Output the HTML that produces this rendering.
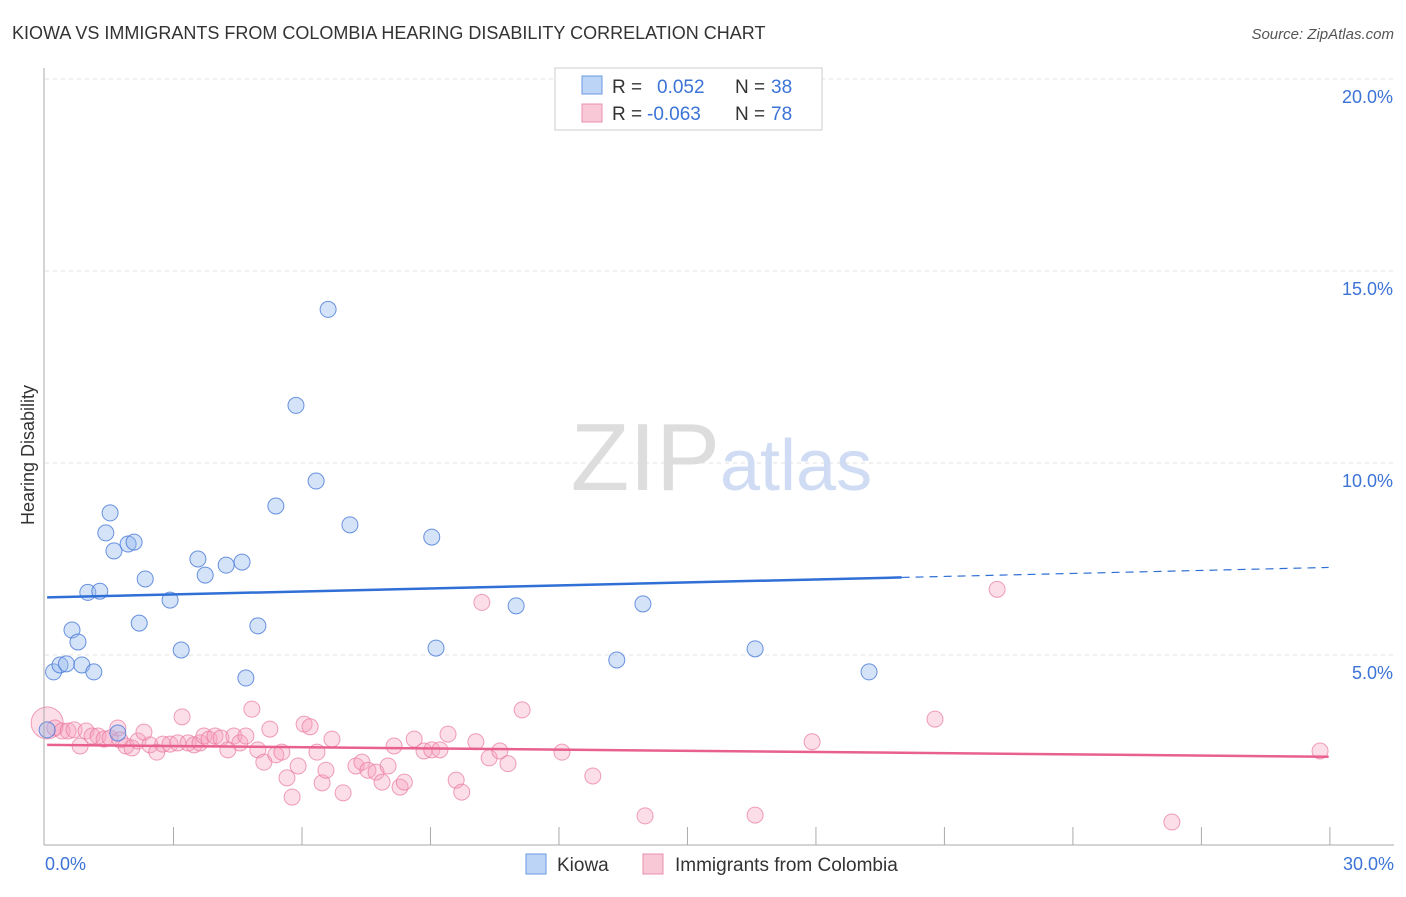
<!DOCTYPE html>
<html><head><meta charset="utf-8"><style>
body{margin:0;background:#fff;font-family:"Liberation Sans",sans-serif}
svg text{font-family:"Liberation Sans",sans-serif}
</style></head><body>
<svg width="1406" height="892">
<text x="12" y="39" font-size="18" fill="#333">KIOWA VS IMMIGRANTS FROM COLOMBIA HEARING DISABILITY CORRELATION CHART</text>
<text x="1394" y="39" font-size="15" fill="#555" font-style="italic" text-anchor="end">Source: ZipAtlas.com</text>
<g id="grid"></g>
<text x="720" y="490" font-size="96" fill="#ddd" font-family="Liberation Serif" text-anchor="end">ZIP</text>
<text x="720" y="490" font-size="72" fill="#cfdcf3">atlas</text>
<text transform="translate(34,455) rotate(-90)" font-size="18" fill="#333" text-anchor="middle">Hearing Disability</text>
<g id="pts"></g>
<g id="lines"></g>
<line x1="44" y1="68" x2="44" y2="845" stroke="#aaa"/>
<line x1="44" y1="845" x2="1394" y2="845" stroke="#aaa"/>
<text x="45" y="870" font-size="18" fill="#3b73d6">0.0%</text>
<text x="1394" y="870" font-size="18" fill="#3b73d6" text-anchor="end">30.0%</text>
<g>
<rect x="555" y="68" width="267" height="62" fill="#fff" stroke="#ccc"/>
<rect x="582" y="76" width="20" height="18" fill="#bcd4f5" stroke="#6a9ae0"/>
<rect x="582" y="104" width="20" height="18" fill="#f9c8d6" stroke="#e892ae"/>
<text x="612" y="93" font-size="19" fill="#333">R = </text><text x="657" y="93" font-size="19" fill="#3b73d6">0.052</text>
<text x="735" y="93" font-size="19" fill="#333">N = </text><text x="771" y="93" font-size="19" fill="#3b73d6">38</text>
<text x="612" y="120" font-size="19" fill="#333">R = </text><text x="647" y="120" font-size="19" fill="#3b73d6">-0.063</text>
<text x="735" y="120" font-size="19" fill="#333">N = </text><text x="771" y="120" font-size="19" fill="#3b73d6">78</text>
</g>
<g>
<rect x="526" y="854" width="20" height="20" fill="#bcd4f5" stroke="#6a9ae0"/>
<text x="557" y="871" font-size="19" fill="#333">Kiowa</text>
<rect x="643" y="854" width="20" height="20" fill="#f9c8d6" stroke="#e892ae"/>
<text x="675" y="871" font-size="19" fill="#333">Immigrants from Colombia</text>
</g>
</svg>
<script>
const yTicks=[5,10,15,20];
const xTicks=[3,6,9,12,15,18,21,24,27,30];
const kiowaX=[0.05,0.2,0.35,0.5,0.63,0.77,0.86,1.0,1.14,1.28,1.42,1.52,1.61,1.94,2.08,2.2,2.34,1.7,2.92,3.18,3.57,3.74,4.23,4.6,4.69,4.97,5.39,5.86,6.33,6.61,7.12,9.03,9.13,11.0,13.35,13.96,16.58,19.24];
const kiowaY=[3.05,4.56,4.74,4.77,5.65,5.34,4.74,6.63,4.56,6.66,8.18,8.70,7.71,7.89,7.94,5.83,6.98,2.97,6.43,5.13,7.50,7.08,7.34,7.42,4.40,5.76,8.88,11.5,9.53,14.0,8.39,8.07,5.18,6.28,4.87,6.33,5.16,4.56];
const colX=[0.05,0.23,0.4,0.54,0.68,0.82,0.96,1.1,1.24,1.38,1.52,1.7,1.75,1.89,2.03,2.17,2.31,2.45,2.61,2.75,2.92,3.1,3.2,3.34,3.48,3.62,3.71,3.83,3.97,4.11,4.27,4.41,4.55,4.69,4.83,4.97,5.11,5.25,5.39,5.53,5.65,5.77,5.91,6.05,6.19,6.35,6.47,6.56,6.7,6.96,7.26,7.4,7.54,7.73,7.87,8.01,8.15,8.29,8.39,8.62,8.85,9.03,9.22,9.41,9.6,9.73,10.06,10.2,10.37,10.62,10.81,11.14,12.07,12.79,14.01,16.58,17.91,20.78,22.23,26.31,29.77];
const colY=[3.23,3.1,3.02,3.02,3.05,2.63,3.02,2.89,2.89,2.81,2.84,3.10,2.79,2.63,2.58,2.76,2.99,2.66,2.47,2.68,2.68,2.71,3.39,2.71,2.66,2.71,2.89,2.81,2.89,2.84,2.53,2.89,2.71,2.89,3.59,2.53,2.21,3.07,2.40,2.47,1.80,1.30,2.11,3.20,3.13,2.47,1.67,2.00,2.81,1.41,2.11,2.21,2.00,1.95,1.69,2.11,2.63,1.56,1.69,2.81,2.50,2.53,2.53,2.94,1.74,1.43,2.74,6.37,2.32,2.50,2.17,3.57,2.47,1.85,0.81,0.83,2.74,3.33,6.71,0.65,2.50];
const X=v=>45+v*42.83, Y=v=>847-v*38.4;
const NS='http://www.w3.org/2000/svg';
const grid=document.getElementById('grid'),pts=document.getElementById('pts'),lines=document.getElementById('lines');
function mk(tag,attrs,parent){const e=document.createElementNS(NS,tag);for(const k in attrs)e.setAttribute(k,attrs[k]);parent.appendChild(e);return e;}
yTicks.forEach(t=>{
 const l=mk('line',{x1:45,x2:1394,y1:Y(t),y2:Y(t),stroke:'#e0e0e0','stroke-dasharray':'4,4'},grid);
 
 
 const tx=mk('text',{x:1393,y:Y(t)+24,'font-size':18,fill:'#3b73d6','text-anchor':'end'},grid);
 tx.textContent=t.toFixed(1)+'%';
 
 
});
xTicks.forEach(t=>{
 const l=mk('line',{x1:X(t),x2:X(t),y1:827,y2:845,stroke:'#aaa'},grid);
 
 
});
colX.forEach((x,i)=>{
 const c=mk('circle',{cx:X(x),cy:Y(colY[i]),r:i==0?16:8,fill:'rgba(245,160,190,0.35)',stroke:'rgba(232,120,160,0.7)','stroke-width':1},pts);
 
 
});
kiowaX.forEach((x,i)=>{
 const c=mk('circle',{cx:X(x),cy:Y(kiowaY[i]),r:8,fill:'rgba(150,185,240,0.4)',stroke:'rgba(70,120,215,0.8)','stroke-width':1},pts);
 
 
});
const b1=mk('line',{x1:X(0.05),y1:Y(6.5),x2:X(20),y2:Y(7.02),stroke:'#2f6fd6','stroke-width':2.5},lines);


const b2=mk('line',{x1:X(20),y1:Y(7.02),x2:X(29.97),y2:Y(7.28),stroke:'#2f6fd6','stroke-width':1.2,'stroke-dasharray':'8,6'},lines);


const p1=mk('line',{x1:X(0.05),y1:Y(2.66),x2:X(29.97),y2:Y(2.35),stroke:'#e8608e','stroke-width':2.5},lines);


</script>
</body></html>
